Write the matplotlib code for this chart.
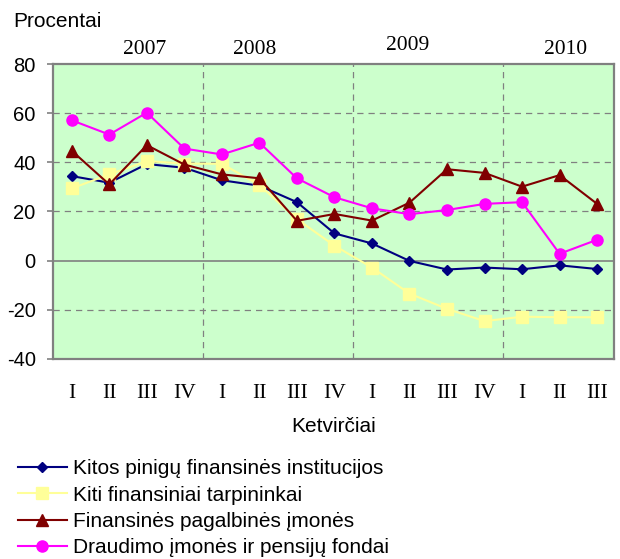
import matplotlib
matplotlib.use("Agg")
import matplotlib.pyplot as plt

quarters = ["I", "II", "III", "IV", "I", "II", "III", "IV",
            "I", "II", "III", "IV", "I", "II", "III"]
years = ["2007", "2008", "2009", "2010"]
year_pos = [1.95, 4.88, 8.96, 13.15]

kitos_pinigu = [34.4, 31.7, 39.3, 37.8, 32.7, 30.5, 23.8, 11.1, 7.0, -0.1,
                -3.6, -2.8, -3.5, -1.9, -3.4]
kiti_tarpininkai = [29.4, 35.1, 40.5, 39.5, 39.4, 30.8, 16.9, 6.1, -2.8, -13.4,
                    -19.6, -24.6, -22.8, -23.0, -23.0]
pagalbines = [44.7, 31.0, 47.0, 39.1, 35.1, 33.5, 16.2, 19.0, 16.3, 23.6,
              37.2, 35.7, 30.1, 34.8, 23.1]
draudimo = [57.1, 51.3, 60.2, 45.6, 43.2, 48.0, 33.5, 25.8, 21.3, 18.9,
            20.6, 23.1, 23.8, 2.8, 8.5]

series = [
    ("Kitos pinigų finansinės institucijos", kitos_pinigu, "#000080", "D", 5.5),
    ("Kiti finansiniai tarpininkai", kiti_tarpininkai, "#FFFF99", "s", 8),
    ("Finansinės pagalbinės įmonės", pagalbines, "#800000", "^", 8),
    ("Draudimo įmonės ir pensijų fondai", draudimo, "#FF00FF", "o", 8),
]

plt.rcParams["font.family"] = ["Liberation Sans", "DejaVu Sans"]
plt.rcParams["axes.unicode_minus"] = False

fig = plt.figure(figsize=(6.2, 5.59), dpi=100)
ax = fig.add_axes([0.0855, 0.3578, 0.9048, 0.5277])
ax.set_facecolor("#CCFFCC")

x = list(range(len(quarters)))
for label, vals, color, marker, ms in series:
    ax.plot(x, vals, color=color, marker=marker, markersize=ms, lw=1.5,
            label=label, zorder=3)

ax.set_xlim(-0.5, 14.45)
ax.set_ylim(-40, 80)
ax.set_yticks(range(-40, 81, 20))
ax.tick_params(axis="y", labelsize=14.5, length=4.5, width=1.2,
               color="#808080", pad=8)
ax.set_xticks(x)
ax.set_xticklabels(quarters, fontfamily="Liberation Serif", fontsize=15.5)
ax.tick_params(axis="x", length=0, pad=18)

# grid: dashed at +-20 steps, solid zero line, year separators
for v in [-20, 20, 40, 60]:
    ax.axhline(v, color="#808080", ls=(0, (5, 4)), lw=0.9, zorder=1)
ax.axhline(0, color="#808080", lw=1.2, zorder=1)
for b in [3.5, 7.5, 11.5]:
    ax.axvline(b, color="#808080", ls=(0, (5, 4)), lw=0.9, zorder=1)

for s in ax.spines.values():
    s.set_color("#808080")
    s.set_linewidth(1.6)

for yr, xp in zip(years, year_pos):
    yy = 83.5 if yr == "2009" else 82
    ax.text(xp, yy, yr, ha="center", va="bottom", fontsize=15.5,
            fontfamily="Liberation Serif")

fig.text(0.021, 0.9517, "Procentai", fontsize=15, va="baseline")
ax.set_xlabel("Ketvirčiai", fontsize=15, labelpad=10)

fig.legend(loc="upper left", bbox_to_anchor=(0.029, 0.178), frameon=False,
           fontsize=15, handlelength=2.35, labelspacing=0.35,
           handletextpad=0.3, borderaxespad=0, borderpad=0)

fig.savefig("out.png", dpi=100)
